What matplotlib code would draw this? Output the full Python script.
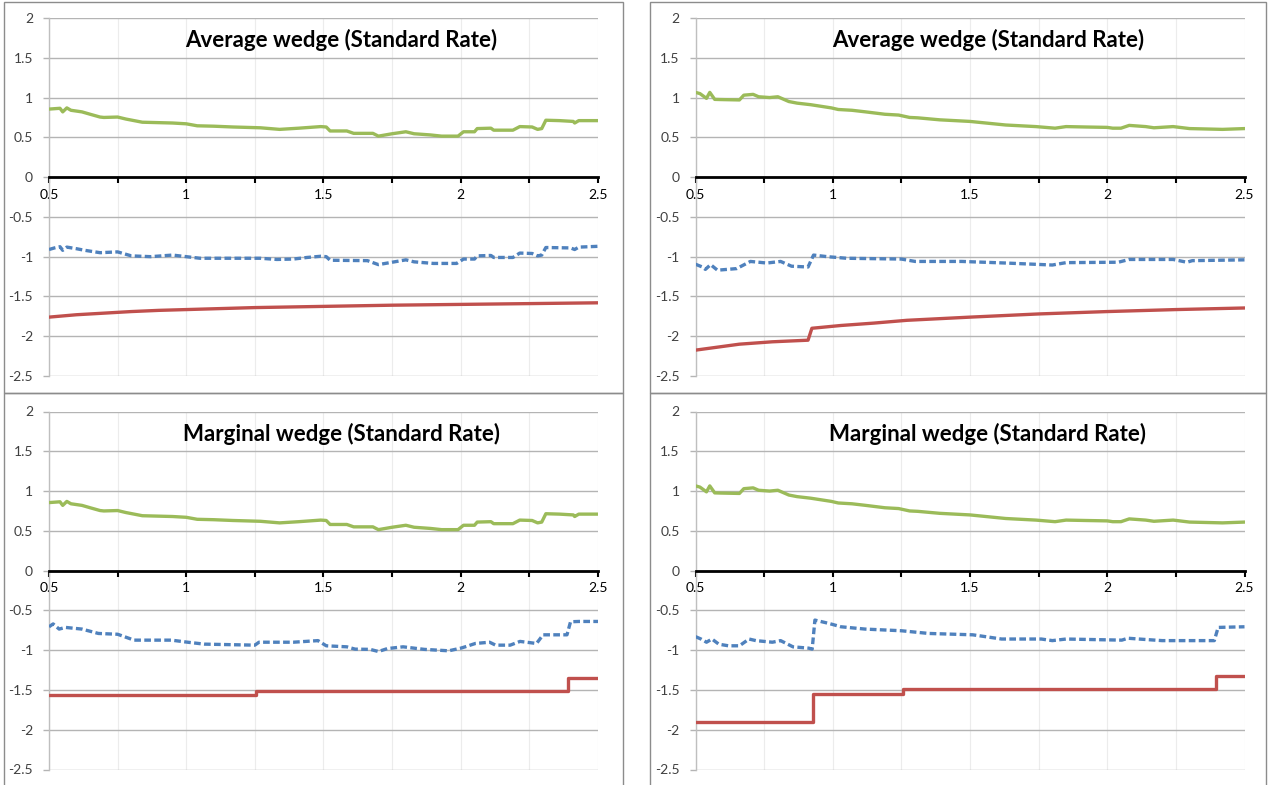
import matplotlib
matplotlib.use("Agg")
import matplotlib.pyplot as plt
from matplotlib.patches import Rectangle
from matplotlib.ticker import MultipleLocator

plt.rcParams['font.family'] = ['Lato', 'DejaVu Sans']

W, H = 1268, 785

# green: total wedge (same in both rows)
green_l_x = [0.50, 0.52, 0.54, 0.55, 0.565, 0.58, 0.62, 0.65, 0.686, 0.70, 0.75, 0.78, 0.84, 0.95,
             1.00, 1.04, 1.10, 1.17, 1.27, 1.34, 1.41, 1.49, 1.51, 1.524, 1.585, 1.61, 1.68, 1.70,
             1.75, 1.80, 1.83, 1.89, 1.93, 1.99, 2.01, 2.05, 2.06, 2.11, 2.12, 2.19, 2.215, 2.26,
             2.28, 2.295, 2.31, 2.36, 2.41, 2.415, 2.43, 2.50]
green_l_y = [0.855, 0.86, 0.865, 0.82, 0.87, 0.84, 0.82, 0.79, 0.755, 0.75, 0.755, 0.73, 0.69, 0.68,
             0.67, 0.645, 0.64, 0.63, 0.62, 0.60, 0.615, 0.635, 0.63, 0.58, 0.58, 0.55, 0.55, 0.515,
             0.545, 0.57, 0.545, 0.53, 0.515, 0.515, 0.57, 0.57, 0.61, 0.615, 0.59, 0.59, 0.635, 0.63,
             0.60, 0.61, 0.715, 0.71, 0.70, 0.68, 0.71, 0.71]

green_r_x = [0.50, 0.516, 0.528, 0.54, 0.552, 0.57, 0.59, 0.66, 0.676, 0.71, 0.73, 0.77, 0.80, 0.84,
             0.87, 0.92, 0.995, 1.02, 1.07, 1.12, 1.19, 1.24, 1.28, 1.31, 1.39, 1.50, 1.63, 1.74,
             1.81, 1.85, 1.92, 2.00, 2.02, 2.05, 2.08, 2.14, 2.17, 2.24, 2.30, 2.42, 2.50]
green_r_y = [1.065, 1.05, 1.02, 0.99, 1.065, 0.977, 0.975, 0.97, 1.03, 1.04, 1.01, 1.00, 1.01, 0.95,
             0.93, 0.91, 0.87, 0.85, 0.84, 0.82, 0.79, 0.78, 0.75, 0.745, 0.72, 0.70, 0.655, 0.635,
             0.615, 0.635, 0.63, 0.625, 0.615, 0.615, 0.65, 0.635, 0.62, 0.635, 0.61, 0.60, 0.61]

# red: average rate
red_avg_l_x = [0.5, 0.6, 0.7, 0.8, 0.9, 1.0, 1.25, 1.5, 1.75, 2.0, 2.25, 2.5]
red_avg_l_y = [-1.76, -1.73, -1.71, -1.69, -1.675, -1.665, -1.64, -1.625, -1.61, -1.60, -1.59, -1.58]

red_avg_r_x = [0.5, 0.66, 0.78, 0.91, 0.924, 1.03, 1.15, 1.27, 1.5, 1.75, 2.0, 2.25, 2.5]
red_avg_r_y = [-2.175, -2.10, -2.07, -2.05, -1.90, -1.865, -1.835, -1.80, -1.76, -1.72, -1.69, -1.665, -1.645]

# red: marginal rate (step changes)
red_mrg_l_x = [0.5, 1.255, 2.392, 2.5]
red_mrg_l_y = [-1.567, -1.513, -1.353, -1.353]

red_mrg_r_x = [0.5, 0.928, 1.257, 2.396, 2.5]
red_mrg_r_y = [-1.903, -1.546, -1.49, -1.323, -1.323]

# blue dashed: net
blue_avg_l_x = [0.50, 0.52, 0.54, 0.55, 0.565, 0.60, 0.63, 0.686, 0.75, 0.80, 0.87, 0.95, 1.00, 1.05,
                1.17, 1.27, 1.33, 1.39, 1.44, 1.49, 1.51, 1.524, 1.66, 1.70, 1.75, 1.80, 1.83, 1.90,
                1.985, 2.01, 2.05, 2.06, 2.11, 2.12, 2.19, 2.215, 2.26, 2.28, 2.295, 2.31, 2.40,
                2.415, 2.43, 2.50]
blue_avg_l_y = [-0.91, -0.89, -0.875, -0.92, -0.88, -0.90, -0.92, -0.95, -0.94, -0.99, -1.00, -0.98,
                -1.00, -1.02, -1.02, -1.02, -1.035, -1.03, -1.01, -0.995, -1.00, -1.045, -1.05, -1.10,
                -1.07, -1.04, -1.065, -1.085, -1.085, -1.03, -1.03, -0.99, -0.985, -1.01, -1.01,
                -0.955, -0.96, -0.99, -0.98, -0.885, -0.89, -0.91, -0.88, -0.87]

blue_avg_r_x = [0.50, 0.525, 0.536, 0.555, 0.58, 0.65, 0.70, 0.76, 0.81, 0.85, 0.91, 0.93, 0.98,
                1.05, 1.25, 1.30, 1.47, 1.63, 1.80, 1.85, 2.04, 2.08, 2.24, 2.29, 2.31, 2.50]
blue_avg_r_y = [-1.095, -1.13, -1.16, -1.10, -1.17, -1.15, -1.06, -1.08, -1.06, -1.12, -1.13, -0.98,
                -1.00, -1.02, -1.03, -1.06, -1.06, -1.08, -1.105, -1.075, -1.07, -1.035, -1.035,
                -1.07, -1.05, -1.04]

blue_mrg_l_x = [0.50, 0.515, 0.537, 0.56, 0.62, 0.68, 0.75, 0.81, 0.946, 1.005, 1.065, 1.25, 1.265,
                1.39, 1.48, 1.51, 1.585, 1.615, 1.67, 1.70, 1.733, 1.79, 1.867, 1.956, 2.00, 2.016,
                2.053, 2.105, 2.127, 2.18, 2.216, 2.276, 2.30, 2.387, 2.40, 2.43, 2.50]
blue_mrg_l_y = [-0.706, -0.67, -0.735, -0.714, -0.735, -0.79, -0.80, -0.874, -0.874, -0.90, -0.924,
                -0.937, -0.90, -0.90, -0.88, -0.945, -0.958, -0.987, -0.99, -1.017, -0.98, -0.958,
                -0.99, -1.008, -0.975, -0.958, -0.916, -0.90, -0.937, -0.937, -0.89, -0.916, -0.807,
                -0.807, -0.643, -0.639, -0.639]

blue_mrg_r_x = [0.50, 0.52, 0.54, 0.56, 0.585, 0.62, 0.66, 0.695, 0.72, 0.78, 0.81, 0.855, 0.913,
                0.925, 0.935, 0.986, 1.03, 1.118, 1.25, 1.35, 1.51, 1.556, 1.615, 1.76, 1.80, 1.85,
                2.053, 2.075, 2.14, 2.20, 2.39, 2.404, 2.50]
blue_mrg_r_y = [-0.83, -0.86, -0.90, -0.86, -0.925, -0.945, -0.945, -0.86, -0.88, -0.90, -0.88,
                -0.958, -0.975, -0.987, -0.622, -0.664, -0.706, -0.735, -0.756, -0.79, -0.807, -0.83,
                -0.86, -0.86, -0.88, -0.86, -0.874, -0.85, -0.866, -0.88, -0.88, -0.714, -0.706]

titles = ["Average wedge (Standard Rate)", "Marginal wedge (Standard Rate)"]
x_ticks = [0.5, 1, 1.5, 2, 2.5]
y_ticks = [-2.5, -2, -1.5, -1, -0.5, 0, 0.5, 1, 1.5, 2]

GREEN = '#9BBB59'
RED = '#C0504D'
BLUE = '#4F81BD'

fig = plt.figure(figsize=(W / 100, H / 100), dpi=100)


def px_box(x0, y0, x1, y1):
    # pixel box (top-left origin) -> figure fraction rect
    return [x0 / W, 1 - y1 / H, (x1 - x0) / W, (y1 - y0) / H]


# chart area frames
for fx0, fx1 in [(4, 623), (650, 1266)]:
    for fy0, fy1 in [(2, 393), (393, 790)]:
        l, b, w, h = px_box(fx0, fy0, fx1, fy1)
        fig.add_artist(Rectangle((l, b), w, h, transform=fig.transFigure,
                                 fill=False, ec='#8c8c8c', lw=1.0))

panels = [
    (px_box(49, 18, 598, 376), titles[0], green_l_x, green_l_y, blue_avg_l_x, blue_avg_l_y,
     red_avg_l_x, red_avg_l_y, False),
    (px_box(695.5, 18, 1244.5, 376), titles[0], green_r_x, green_r_y, blue_avg_r_x, blue_avg_r_y,
     red_avg_r_x, red_avg_r_y, False),
    (px_box(49, 411.5, 598, 769.5), titles[1], green_l_x, green_l_y, blue_mrg_l_x, blue_mrg_l_y,
     red_mrg_l_x, red_mrg_l_y, True),
    (px_box(695.5, 411.5, 1244.5, 769.5), titles[1], green_r_x, green_r_y, blue_mrg_r_x, blue_mrg_r_y,
     red_mrg_r_x, red_mrg_r_y, True),
]

for rect, title, gx, gy, bx, by, rx, ry, steps in panels:
    ax = fig.add_axes(rect)
    ax.set_xlim(0.5, 2.5)
    ax.set_ylim(-2.5, 2)

    ax.xaxis.set_major_locator(MultipleLocator(0.5))
    ax.xaxis.set_minor_locator(MultipleLocator(0.25))
    ax.set_xticks(x_ticks)
    ax.set_xticklabels([f"{t:g}" for t in x_ticks], fontweight='bold', fontsize=10.5)
    ax.set_yticks(y_ticks)
    ax.set_yticklabels([f"{t:g}" for t in y_ticks], fontsize=10, color='#404040')

    # gridlines
    ax.grid(True, which='major', axis='y', color='#b4b4b4', lw=1.0)
    ax.grid(True, which='both', axis='x', color='#ececec', lw=0.8)
    ax.set_axisbelow(True)

    for s in ['top', 'right']:
        ax.spines[s].set_visible(False)
    ax.spines['left'].set_color('#bfbfbf')
    ax.spines['left'].set_linewidth(1.0)
    ax.spines['bottom'].set_position(('data', 0))
    ax.spines['bottom'].set_color('black')
    ax.spines['bottom'].set_linewidth(2.0)
    ax.spines['bottom'].set_zorder(5)

    ax.tick_params(axis='x', which='both', direction='out', length=4.5, width=1.5,
                   color='black', pad=4)
    ax.tick_params(axis='y', direction='out', length=4.5, width=1.0, color='#b4b4b4', pad=7)

    ax.plot(gx, gy, color=GREEN, lw=2.4, zorder=3, solid_joinstyle='round')
    ax.plot(bx, by, color=BLUE, lw=2.4, ls=(0, (2.0, 1.0)), zorder=3)
    if steps:
        ax.plot(rx, ry, color=RED, lw=2.4, drawstyle='steps-post', zorder=3)
    else:
        ax.plot(rx, ry, color=RED, lw=2.4, zorder=3)

    ax.text(1.565, 1.72, title, ha='center', va='center', fontsize=16,
            fontweight='bold', color='black')

fig.savefig('out.png', dpi=100)
